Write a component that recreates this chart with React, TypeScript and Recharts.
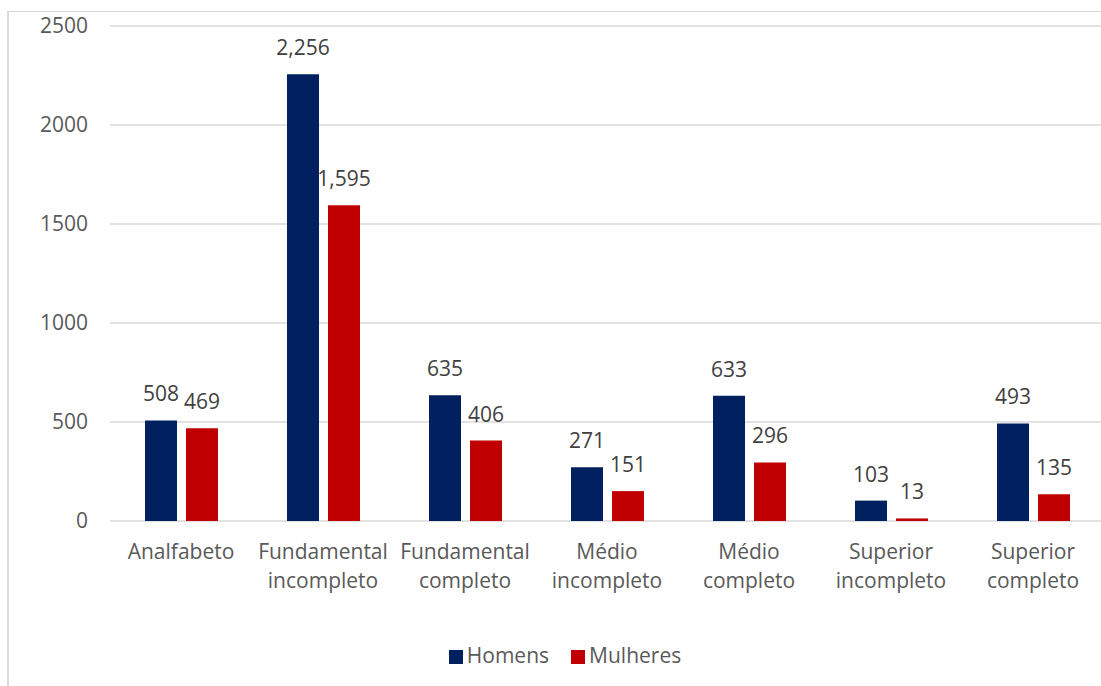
import React from "react";
import {
  BarChart,
  Bar,
  XAxis,
  YAxis,
  CartesianGrid,
  Legend,
  LabelList,
} from "recharts";

const categories = [
  "Analfabeto",
  "Fundamental incompleto",
  "Fundamental completo",
  "Médio incompleto",
  "Médio completo",
  "Superior incompleto",
  "Superior completo",
];
const homens = [508, 2256, 635, 271, 633, 103, 493];
const mulheres = [469, 1595, 406, 151, 296, 13, 135];
const yTicks = [0, 500, 1000, 1500, 2000, 2500];

const FONT = "'Open Sans', sans-serif";
const TEXT = "#595959";

const data = categories.map((name, i) => ({
  name,
  Homens: homens[i],
  Mulheres: mulheres[i],
}));

const fmt = (v: number) => v.toLocaleString("en-US");

function CategoryTick(props: any) {
  const { x, y, payload } = props;
  const words = String(payload.value).split(" ");
  return (
    <text
      x={x}
      y={y}
      textAnchor="middle"
      fill={TEXT}
      fontFamily={FONT}
      fontSize={21}
    >
      {words.map((w, i) => (
        <tspan key={i} x={x} dy={i === 0 ? 30 : 29}>
          {w}
        </tspan>
      ))}
    </text>
  );
}

export default function App() {
  return (
    <div
      style={{
        position: "absolute",
        left: 0,
        top: 0,
        width: 1101,
        height: 686,
        overflow: "hidden",
        background: "#fff",
      }}
    >
      <div
        style={{
          position: "absolute",
          left: 7,
          top: 11,
          width: 1200,
          height: 800,
          borderLeft: "2px solid #d9d9d9",
          borderTop: "1.5px solid #d9d9d9",
        }}
      />
      <div style={{ position: "absolute", left: 8, top: 11 }}>
        <BarChart
          width={1116}
          height={675}
          data={data}
          margin={{ top: 15, right: 20, bottom: 17, left: 0 }}
          barSize={32}
          barGap={9}
        >
          <CartesianGrid
            vertical={false}
            stroke="#d9d9d9"
            strokeWidth={1.5}
          />
          <XAxis
            dataKey="name"
            axisLine={false}
            tickLine={false}
            interval={0}
            height={120}
            tick={<CategoryTick />}
          />
          <YAxis
            width={102}
            domain={[0, 2500]}
            ticks={yTicks}
            axisLine={false}
            tickLine={false}
            tickSize={0}
            tickMargin={22}
            tick={{ fill: TEXT, fontFamily: FONT, fontSize: 21 }}
          />
          <Legend
            verticalAlign="bottom"
            iconType="square"
            iconSize={14}
            wrapperStyle={{
              fontFamily: FONT,
              fontSize: 21,
              color: TEXT,
              paddingLeft: 14,
            }}
            formatter={(value: string, _e: any, index: number) => (
              <span style={{ color: TEXT, marginRight: index === 0 ? 12 : 0 }}>
                {value}
              </span>
            )}
          />
          <Bar dataKey="Homens" fill="#002060" isAnimationActive={false}>
            <LabelList
              dataKey="Homens"
              position="top"
              offset={19}
              formatter={(v: any) => fmt(Number(v))}
              fill="#404040"
              fontFamily={FONT}
              fontSize={21}
            />
          </Bar>
          <Bar dataKey="Mulheres" fill="#c00000" isAnimationActive={false}>
            <LabelList
              dataKey="Mulheres"
              position="top"
              offset={19}
              formatter={(v: any) => fmt(Number(v))}
              fill="#404040"
              fontFamily={FONT}
              fontSize={21}
            />
          </Bar>
        </BarChart>
      </div>
    </div>
  );
}
